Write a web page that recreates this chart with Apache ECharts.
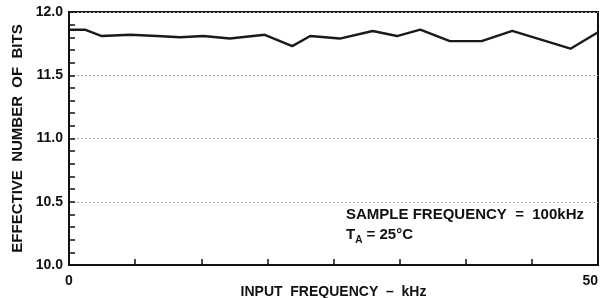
<!DOCTYPE html>
<html>
<head>
<meta charset="utf-8">
<script src="https://cdn.jsdelivr.net/npm/echarts@6/dist/echarts.min.js"></script>
<style>
  html, body { margin: 0; padding: 0; background: #fff; }
  #chart { width: 605px; height: 298px; }
</style>
</head>
<body>
<div id="chart"></div>
<script>
// input frequency (kHz) and effective bits
const freqKHz = [0, 1.5, 3.1, 5.8, 8.3, 10.5, 12.7, 15.2, 18.5, 21.1, 22.8, 25.6, 28.7, 31.0, 33.2, 36.0, 39.0, 41.9, 47.4, 50];
const enobBits = [11.86, 11.86, 11.81, 11.82, 11.81, 11.80, 11.81, 11.79, 11.82, 11.73, 11.81, 11.79, 11.85, 11.81, 11.86, 11.77, 11.77, 11.85, 11.71, 11.84];
const yTicks = [10.0, 10.5, 11.0, 11.5, 12.0];
const xLabels = [0, 50];

const chart = echarts.init(document.getElementById("chart"));
const font = "Liberation Sans, Arial, sans-serif";

chart.setOption({
  animation: false,
  textStyle: { fontFamily: font },
  grid: {
    left: 69, right: 7, top: 12, bottom: 33,
    outerBoundsMode: "none",
    containLabel: false,
    show: true, borderColor: "#111", borderWidth: 2, backgroundColor: "transparent"
  },
  xAxis: {
    type: "value",
    min: 0, max: 50, interval: 6.25,
    name: "INPUT  FREQUENCY  –  kHz",
    nameLocation: "middle",
    nameGap: 20,
    nameMoveOverlap: false,
    nameTextStyle: { fontWeight: "bold", fontSize: 14, color: "#111" },
    axisLine: { lineStyle: { color: "#111", width: 2 } },
    axisTick: { inside: true, length: 6, lineStyle: { color: "#111", width: 1.5 } },
    axisLabel: {
      fontWeight: "bold", fontSize: 14, color: "#111", margin: 9,
      formatter: v => (xLabels.includes(v) ? String(v) : ""),
      alignMaxLabel: "right"
    },
    splitLine: { show: false }
  },
  yAxis: {
    type: "value",
    min: 10, max: 12, interval: 0.5,
    name: "EFFECTIVE  NUMBER  OF  BITS",
    nameLocation: "middle",
    nameGap: 44,
    nameMoveOverlap: false,
    nameTextStyle: { fontWeight: "bold", fontSize: 15, color: "#111" },
    axisLine: { show: true, lineStyle: { color: "#111", width: 2 } },
    axisTick: { inside: true, length: 6, lineStyle: { color: "#111", width: 1.5 } },
    minorTick: { show: true, splitNumber: 5, length: 6, lineStyle: { color: "#111", width: 1.5 } },
    axisLabel: {
      fontWeight: "bold", fontSize: 14, color: "#111", margin: 6,
      formatter: v => (yTicks.includes(v) ? v.toFixed(1) : "")
    },
    splitLine: { show: true, lineStyle: { color: "#aaa", type: [2, 2], width: 1 } }
  },
  series: [{
    type: "line",
    data: freqKHz.map((f, i) => [f, enobBits[i]]),
    showSymbol: false,
    lineStyle: { color: "#1a1a1a", width: 2.4 },
    z: 3
  }],
  graphic: [{
    type: "text",
    left: 346, top: 205,
    style: {
      text: "SAMPLE FREQUENCY  =  100kHz\nT{sub|A} = 25°C",
      fontFamily: font, fontWeight: "bold", fontSize: 15, fill: "#111",
      lineHeight: 20,
      rich: {
        sub: { fontFamily: font, fontWeight: "bold", fontSize: 10, fill: "#111", verticalAlign: "bottom", padding: [7, 0, 0, 0] }
      }
    }
  }]
});
</script>
</body>
</html>
